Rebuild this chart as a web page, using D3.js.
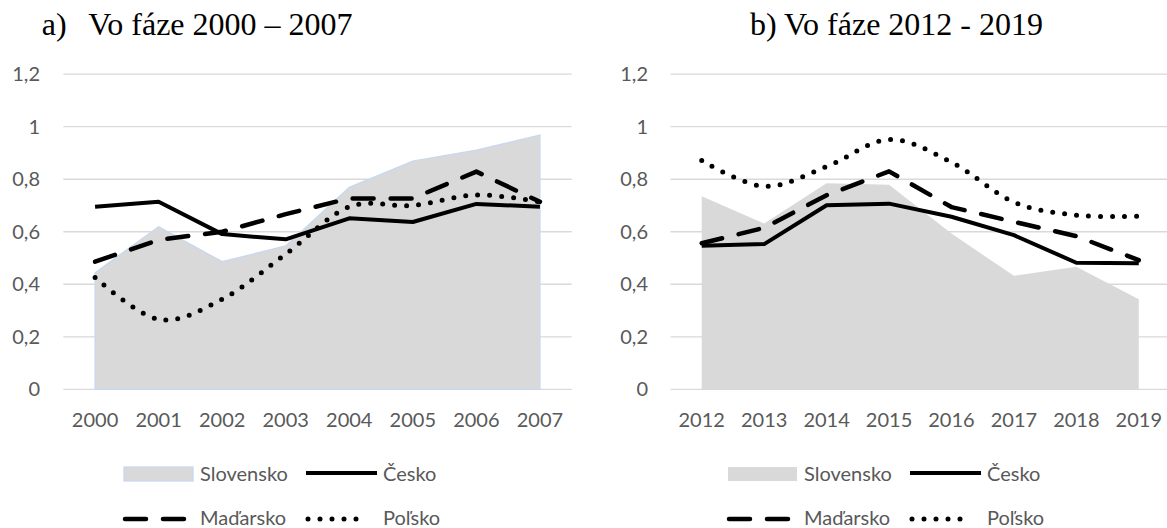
<!DOCTYPE html>
<html>
<head>
<meta charset="utf-8">
<script src="https://cdn.jsdelivr.net/npm/d3@7"></script>
<style>
  html, body { margin: 0; padding: 0; background: #fff; }
  svg { display: block; }
  .tick-label { font-family: Lato, "Open Sans", sans-serif; font-size: 20px; fill: #595959; }
  .title { font-family: "Liberation Serif", serif; font-size: 32px; fill: #000; }
</style>
</head>
<body>
<div id="chart"></div>
<script>
// panel a) 2000 - 2007
const yearsA = ["2000", "2001", "2002", "2003", "2004", "2005", "2006", "2007"];
const slovenskoA = [0.444, 0.619, 0.486, 0.546, 0.769, 0.869, 0.911, 0.968];
const ceskoA = [0.695, 0.714, 0.591, 0.571, 0.651, 0.637, 0.706, 0.695];
const madarskoA = [0.486, 0.569, 0.600, 0.667, 0.727, 0.727, 0.829, 0.714];
const polskoA = [0.426, 0.266, 0.343, 0.515, 0.695, 0.700, 0.740, 0.714];

// panel b) 2012 - 2019
const yearsB = ["2012", "2013", "2014", "2015", "2016", "2017", "2018", "2019"];
const slovenskoB = [0.735, 0.631, 0.785, 0.779, 0.593, 0.432, 0.467, 0.343];
const ceskoB = [0.547, 0.553, 0.701, 0.707, 0.657, 0.587, 0.482, 0.480];
const madarskoB = [0.556, 0.615, 0.739, 0.830, 0.694, 0.638, 0.583, 0.492];
const polskoB = [0.871, 0.773, 0.848, 0.951, 0.865, 0.713, 0.663, 0.659];

const yTicks = [0, 0.2, 0.4, 0.6, 0.8, 1, 1.2];
const seriesNames = ["Slovensko", "Česko", "Maďarsko", "Poľsko"];

const width = 1167, height = 528;
const svg = d3.select("#chart").append("svg")
    .attr("width", width)
    .attr("height", height);

const fmt = v => String(v).replace(".", ",");

const lineStyles = {
    solid: { width: 4, dash: null, cap: "butt" },
    dashed: { width: 4.5, dash: "21 17", cap: "round" },
    dotted: { width: 5, dash: "0 12", cap: "round" }
};

function styleLine(sel, style) {
    sel.attr("fill", "none")
        .attr("stroke", "#000")
        .attr("stroke-width", style.width)
        .attr("stroke-linecap", style.cap)
        .attr("stroke-linejoin", "round");
    if (style.dash) sel.attr("stroke-dasharray", style.dash);
    return sel;
}

function drawPanel(cfg) {
    const g = svg.append("g");

    const x = d3.scaleBand().domain(cfg.years).range(cfg.xRange).padding(0);
    const y = d3.scaleLinear().domain([0, 1.2]).range([389.3, 74.2]);
    const cx = d => x(d) + x.bandwidth() / 2;

    // gridlines
    g.append("g").selectAll("line")
        .data(yTicks)
        .enter().append("line")
        .attr("x1", cfg.xRange[0]).attr("x2", cfg.xRange[1])
        .attr("y1", d => y(d)).attr("y2", d => y(d))
        .attr("stroke", "#d9d9d9")
        .attr("stroke-width", 1.3);

    // y labels
    g.append("g").selectAll("text")
        .data(yTicks)
        .enter().append("text")
        .attr("class", "tick-label")
        .attr("x", cfg.yLabelX)
        .attr("y", d => y(d))
        .attr("dy", "0.35em")
        .attr("text-anchor", "end")
        .text(fmt);

    // x labels
    g.append("g").selectAll("text")
        .data(cfg.years)
        .enter().append("text")
        .attr("class", "tick-label")
        .attr("x", d => cx(d))
        .attr("y", 427)
        .attr("text-anchor", "middle")
        .text(d => d);

    // Slovensko area
    const area = d3.area()
        .x((d, i) => cx(cfg.years[i]))
        .y0(y(0))
        .y1(d => y(d));
    const areaPath = g.append("path")
        .attr("d", area(cfg.sk) + "Z")
        .attr("fill", "#d9d9d9");
    if (cfg.areaStroke) {
        areaPath.attr("stroke", cfg.areaStroke).attr("stroke-width", 1.3);
    }

    const straight = d3.line().x((d, i) => cx(cfg.years[i])).y(d => y(d));
    const smooth = d3.line().x((d, i) => cx(cfg.years[i])).y(d => y(d))
        .curve(d3.curveCatmullRom.alpha(0));

    styleLine(g.append("path").attr("d", straight(cfg.cz)), lineStyles.solid);
    styleLine(g.append("path").attr("d", straight(cfg.hu)), lineStyles.dashed);
    styleLine(g.append("path").attr("d", smooth(cfg.pl)), lineStyles.dotted);

    // title
    const title = g.append("text")
        .attr("class", "title")
        .attr("x", cfg.titleX)
        .attr("y", 35);
    title.append("tspan").text(cfg.titlePrefix);
    title.append("tspan").attr("x", cfg.titleX2).text(cfg.titleText);

    // legend
    const ox = cfg.legendX;
    const legend = g.append("g").attr("transform", `translate(${ox},0)`);
    legend.append("rect")
        .attr("x", 0).attr("y", 467).attr("width", 69).attr("height", 14)
        .attr("fill", "#d9d9d9")
        .attr("stroke", cfg.areaStroke || "none")
        .attr("stroke-width", 1.3);
    styleLine(legend.append("line").attr("x1", 182).attr("x2", 253).attr("y1", 473).attr("y2", 473), lineStyles.solid);
    styleLine(legend.append("line").attr("x1", 1).attr("x2", 61).attr("y1", 519).attr("y2", 519), lineStyles.dashed);
    styleLine(legend.append("line").attr("x1", 184).attr("x2", 244).attr("y1", 519).attr("y2", 519), lineStyles.dotted);

    const legendText = [
        { name: seriesNames[0], x: 76, y: 481 },
        { name: seriesNames[1], x: 259, y: 481 },
        { name: seriesNames[2], x: 76, y: 525 },
        { name: seriesNames[3], x: 259, y: 525 }
    ];
    legend.selectAll("text.leg")
        .data(legendText)
        .enter().append("text")
        .attr("class", "tick-label leg")
        .attr("x", d => d.x)
        .attr("y", d => d.y)
        .text(d => d.name);
}

drawPanel({
    years: yearsA, sk: slovenskoA, cz: ceskoA, hu: madarskoA, pl: polskoA,
    xRange: [63.3, 571.7], yLabelX: 40,
    titleX: 41.7, titleX2: 88.3, titlePrefix: "a)", titleText: "Vo fáze 2000 – 2007",
    legendX: 124, areaStroke: "#c6d9f0"
});

drawPanel({
    years: yearsB, sk: slovenskoB, cz: ceskoB, hu: madarskoB, pl: polskoB,
    xRange: [670.5, 1170], yLabelX: 648,
    titleX: 750, titleX2: null, titlePrefix: "", titleText: "b) Vo fáze 2012 - 2019",
    legendX: 728, areaStroke: null
});
</script>
</body>
</html>
